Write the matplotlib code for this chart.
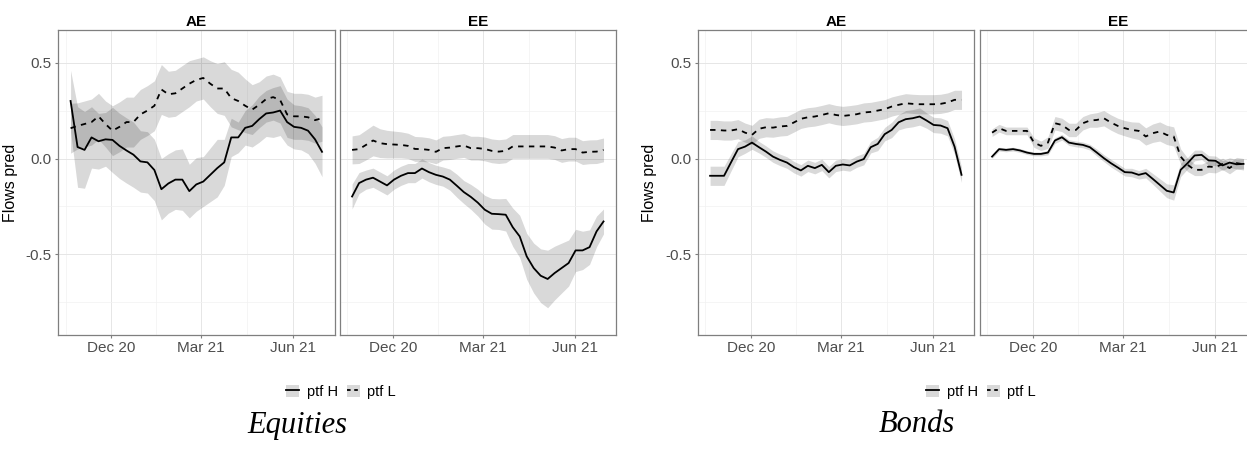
import numpy as np
import pandas as pd
import matplotlib
matplotlib.use("Agg")
import matplotlib.pyplot as plt
from matplotlib.lines import Line2D
from matplotlib.patches import Patch

plt.rcParams["font.family"] = ["Liberation Sans", "DejaVu Sans"]

dates = pd.date_range("2020-10-21", periods=37, freq="7D")

# Equities, AE
eq_ae_h = [0.30, 0.06, 0.045, 0.11, 0.09, 0.10, 0.097, 0.066, 0.042, 0.02, -0.015, -0.02, -0.06,
           -0.16, -0.13, -0.11, -0.11, -0.17, -0.135, -0.12, -0.085, -0.05, -0.02, 0.11, 0.11,
           0.16, 0.17, 0.205, 0.235, 0.24, 0.25, 0.19, 0.165, 0.16, 0.145, 0.10, 0.035]
eq_ae_h_hw = [0.16, 0.21, 0.20, 0.16, 0.145, 0.14, 0.17, 0.17, 0.17, 0.17, 0.16, 0.16, 0.16,
              0.16, 0.155, 0.155, 0.16, 0.14, 0.14, 0.13, 0.14, 0.15, 0.12, 0.1, 0.08,
              0.09, 0.11, 0.12, 0.12, 0.13, 0.13, 0.12, 0.115, 0.115, 0.12, 0.125, 0.13]
eq_ae_l = [0.158, 0.17, 0.18, 0.19, 0.22, 0.18, 0.145, 0.165, 0.19, 0.19, 0.23, 0.25, 0.275,
           0.36, 0.335, 0.34, 0.365, 0.39, 0.41, 0.42, 0.39, 0.365, 0.365, 0.315, 0.30,
           0.275, 0.255, 0.28, 0.31, 0.32, 0.305, 0.23, 0.22, 0.22, 0.215, 0.20, 0.21]
eq_ae_l_hw = [0.13, 0.12, 0.12, 0.12, 0.12, 0.12, 0.13, 0.13, 0.13, 0.13, 0.13, 0.13, 0.13,
              0.13, 0.12, 0.12, 0.12, 0.12, 0.11, 0.11, 0.12, 0.13, 0.14, 0.15, 0.15,
              0.14, 0.13, 0.12, 0.12, 0.12, 0.12, 0.12, 0.12, 0.12, 0.12, 0.12, 0.12]

# Equities, EE
eq_ee_h = [-0.198, -0.128, -0.11, -0.10, -0.12, -0.14, -0.11, -0.09, -0.076, -0.076, -0.052,
           -0.071, -0.085, -0.094, -0.11, -0.142, -0.175, -0.2, -0.23, -0.267, -0.288, -0.29,
           -0.293, -0.358, -0.406, -0.51, -0.571, -0.611, -0.628, -0.597, -0.571, -0.545,
           -0.479, -0.479, -0.462, -0.38, -0.328]
eq_ee_h_hw = [0.065, 0.055, 0.05, 0.05, 0.05, 0.05, 0.05, 0.05, 0.05, 0.05, 0.05, 0.05, 0.05,
              0.05, 0.055, 0.06, 0.06, 0.065, 0.07, 0.075, 0.08, 0.08, 0.085, 0.1, 0.11,
              0.12, 0.13, 0.14, 0.15, 0.14, 0.13, 0.12, 0.11, 0.1, 0.09, 0.08, 0.065]
eq_ee_l = [0.045, 0.049, 0.071, 0.094, 0.08, 0.075, 0.073, 0.071, 0.066, 0.05, 0.049, 0.045,
           0.035, 0.054, 0.057, 0.063, 0.068, 0.054, 0.054, 0.05, 0.04, 0.036, 0.04, 0.063,
           0.063, 0.063, 0.063, 0.063, 0.063, 0.057, 0.042, 0.049, 0.049, 0.031, 0.035, 0.036,
           0.045]
eq_ee_l_hw = [0.073, 0.075, 0.078, 0.08, 0.075, 0.072, 0.07, 0.068, 0.066, 0.065, 0.064, 0.063,
              0.062, 0.062, 0.062, 0.062, 0.062, 0.062, 0.062, 0.062, 0.062, 0.062, 0.062,
              0.062, 0.062, 0.062, 0.062, 0.062, 0.062, 0.062, 0.062, 0.062, 0.062, 0.062,
              0.062, 0.062, 0.062]

# Bonds, AE
bd_ae_h = [-0.09, -0.09, -0.09, -0.02, 0.049, 0.062, 0.083, 0.059, 0.036, 0.01, -0.007, -0.021,
           -0.045, -0.062, -0.038, -0.05, -0.033, -0.071, -0.038, -0.031, -0.036, -0.016,
           -0.003, 0.059, 0.076, 0.127, 0.149, 0.189, 0.205, 0.21, 0.219, 0.198, 0.175, 0.172,
           0.158, 0.062, -0.085]
bd_ae_h_hw = [0.05, 0.05, 0.05, 0.045, 0.04, 0.035, 0.035, 0.03, 0.03, 0.03, 0.03, 0.03, 0.03,
              0.03, 0.03, 0.03, 0.03, 0.03, 0.03, 0.03, 0.03, 0.03, 0.03, 0.03, 0.035,
              0.035, 0.04, 0.04, 0.045, 0.045, 0.045, 0.04, 0.04, 0.04, 0.04, 0.04, 0.04]
bd_ae_l = [0.149, 0.149, 0.146, 0.146, 0.153, 0.135, 0.123, 0.155, 0.163, 0.161, 0.167, 0.17,
           0.188, 0.207, 0.215, 0.219, 0.227, 0.236, 0.227, 0.222, 0.226, 0.231, 0.24, 0.243,
           0.25, 0.257, 0.271, 0.28, 0.288, 0.285, 0.283, 0.283, 0.283, 0.285, 0.292, 0.306,
           0.306]
bd_ae_l_hw = [0.05] * 37

# Bonds, EE
bd_ee_h = [0.01, 0.049, 0.045, 0.049, 0.042, 0.031, 0.024, 0.024, 0.031, 0.094, 0.111, 0.083,
           0.076, 0.071, 0.059, 0.031, 0.002, -0.024, -0.047, -0.071, -0.073, -0.085, -0.076,
           -0.106, -0.137, -0.168, -0.177, -0.059, -0.024, 0.016, 0.019, -0.01, -0.012,
           -0.036, -0.021, -0.03, -0.028]
bd_ee_h_hw = [0.01, 0.01, 0.01, 0.01, 0.01, 0.01, 0.01, 0.01, 0.012, 0.015, 0.015, 0.015, 0.015,
              0.015, 0.015, 0.018, 0.018, 0.02, 0.02, 0.02, 0.022, 0.022, 0.025, 0.028, 0.032,
              0.036, 0.04, 0.035, 0.03, 0.028, 0.025, 0.025, 0.025, 0.025, 0.025, 0.025, 0.025]
bd_ee_l = [0.135, 0.158, 0.144, 0.144, 0.144, 0.144, 0.083, 0.066, 0.083, 0.184, 0.175, 0.149,
           0.149, 0.184, 0.198, 0.201, 0.21, 0.188, 0.17, 0.158, 0.149, 0.144, 0.115, 0.132,
           0.141, 0.123, 0.115, 0.01, -0.033, -0.059, -0.059, -0.042, -0.045, -0.028, -0.05,
           -0.024, -0.03]
bd_ee_l_hw = [0.02, 0.02, 0.02, 0.02, 0.02, 0.02, 0.025, 0.025, 0.03, 0.035, 0.035, 0.035, 0.035,
              0.035, 0.035, 0.038, 0.04, 0.04, 0.04, 0.04, 0.042, 0.045, 0.045, 0.048, 0.05,
              0.05, 0.05, 0.04, 0.035, 0.03, 0.03, 0.03, 0.03, 0.03, 0.03, 0.03, 0.03]

panels = [
    ("AE", eq_ae_h, eq_ae_h_hw, eq_ae_l, eq_ae_l_hw, 58, True),
    ("EE", eq_ee_h, eq_ee_h_hw, eq_ee_l, eq_ee_l_hw, 339.5, False),
    ("AE", bd_ae_h, bd_ae_h_hw, bd_ae_l, bd_ae_l_hw, 697.5, True),
    ("EE", bd_ee_h, bd_ee_h_hw, bd_ee_l, bd_ee_l_hw, 979.5, False),
]

W, H = 1247, 450
fig = plt.figure(figsize=(W / 100, H / 100), dpi=100)

x_lo = dates[0] - pd.Timedelta(days=12.6)
x_hi = dates[-1] + pd.Timedelta(days=12.6)
majors = pd.to_datetime(["2020-12-01", "2021-03-01", "2021-06-01"])
minors = pd.to_datetime(["2020-10-16", "2021-01-15", "2021-04-16"])
band_col = (0, 0, 0, 0.15)

for title, h, h_hw, l, l_hw, left, show_y in panels:
    ax = fig.add_axes([left / W, (H - 335) / H, 276.6 / W, 305 / H])
    h = np.array(h); h_hw = np.array(h_hw)
    l = np.array(l); l_hw = np.array(l_hw)
    ax.fill_between(dates, h - h_hw, h + h_hw, color=band_col, lw=0)
    ax.fill_between(dates, l - l_hw, l + l_hw, color=band_col, lw=0)
    ax.plot(dates, h, color="black", lw=1.3)
    ax.plot(dates, l, color="black", lw=1.3, ls=(0, (3, 3)))
    ax.set_xlim(x_lo, x_hi)
    ax.set_ylim(-0.92, 0.67)
    ax.set_xticks(majors)
    ax.set_xticklabels(["Dec 20", "Mar 21", "Jun 21"])
    ax.set_xticks(minors, minor=True)
    ax.set_yticks([-0.5, 0.0, 0.5])
    ax.set_yticks([-0.75, -0.25, 0.25], minor=True)
    ax.grid(which="major", color="#E6E6E6", lw=0.7)
    ax.grid(which="minor", color="#F2F2F2", lw=0.5)
    ax.set_axisbelow(True)
    ax.tick_params(which="major", length=2.5, color="#7F7F7F", labelsize=11, labelcolor="#4D4D4D", pad=2)
    ax.tick_params(which="minor", length=0)
    for s in ax.spines.values():
        s.set_color("#7F7F7F")
        s.set_linewidth(0.9)
    if show_y:
        ax.set_yticklabels(["-0.5", "0.0", "0.5"])
        ax.set_ylabel("Flows pred", fontsize=11.5)
        ax.yaxis.set_label_coords(-0.145, 0.5)
    else:
        ax.set_yticklabels([])
        ax.tick_params(axis="y", length=0)
    ax.set_title(title, fontsize=11, fontweight="bold", pad=3)

handles = [(Patch(facecolor="#D9D9D9", edgecolor="none"), Line2D([], [], color="black", lw=1.3)),
           (Patch(facecolor="#D9D9D9", edgecolor="none"), Line2D([], [], color="black", lw=1.3, ls=(0, (2, 2))))]
for cx in (341 / W, 981 / W):
    fig.legend(handles, ["ptf H", "ptf L"], loc="center", bbox_to_anchor=(cx, 1 - 392 / H),
               ncol=2, frameon=False, fontsize=10.5, handlelength=0.9, handleheight=0.9,
               handletextpad=0.5, columnspacing=0.6)

fig.text(297 / W, 1 - 425 / H, "Equities", fontsize=22, style="italic",
         family="Liberation Serif", ha="center", va="center")
fig.text(917 / W, 1 - 425 / H, "Bonds", fontsize=22, style="italic",
         family="Liberation Serif", ha="center", va="center")

fig.savefig("out.png", dpi=100)
